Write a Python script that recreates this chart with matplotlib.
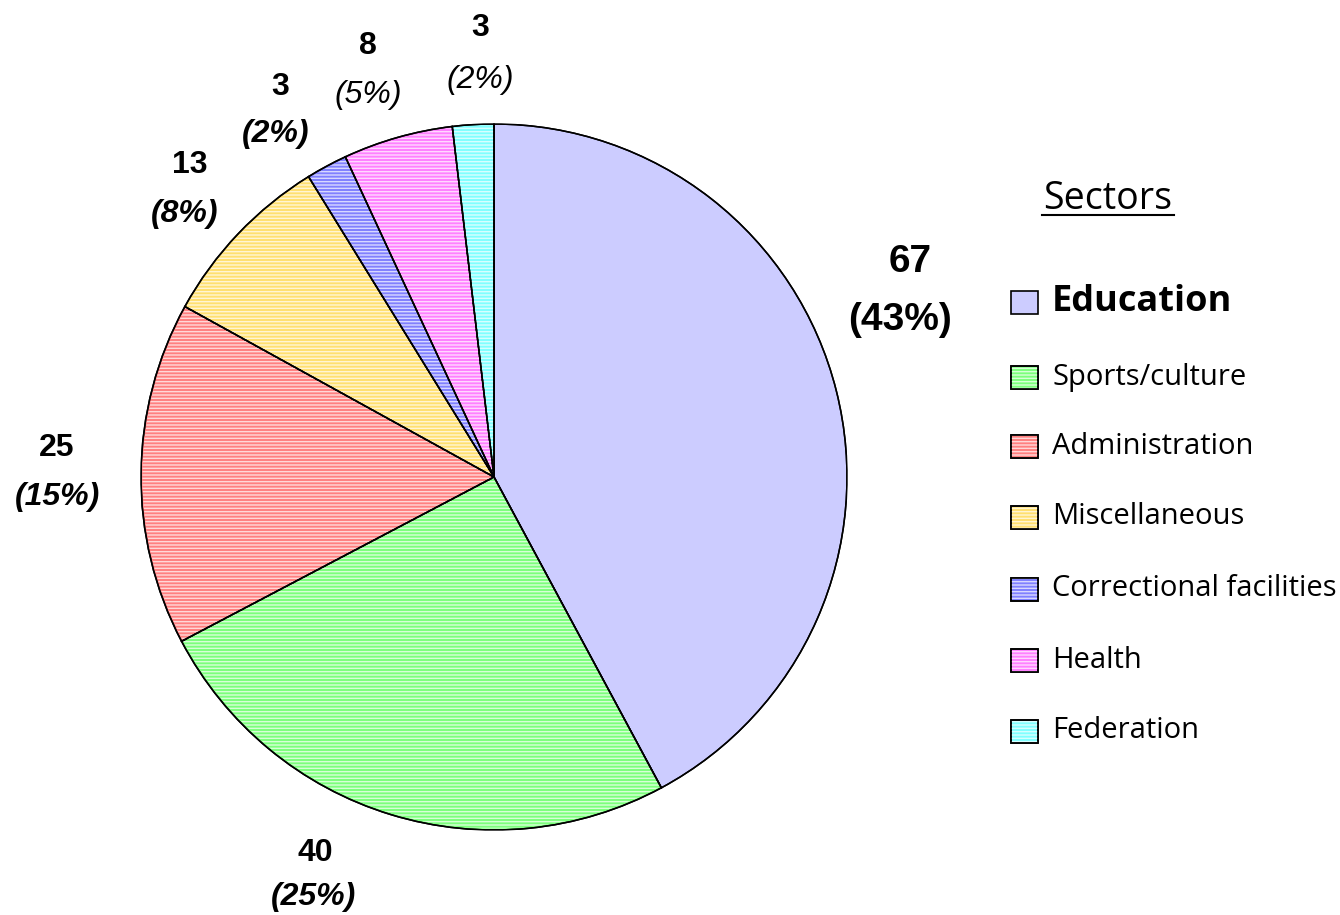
import matplotlib
matplotlib.use("Agg")
import matplotlib.pyplot as plt
from matplotlib.patches import Rectangle, Wedge
from matplotlib.lines import Line2D

sectors = ["Education", "Sports/culture", "Administration", "Miscellaneous",
           "Correctional facilities", "Health", "Federation"]
counts = [67, 40, 25, 13, 3, 8, 3]
pct_labels = ["(43%)", "(25%)", "(15%)", "(8%)", "(2%)", "(5%)", "(2%)"]
colors = ["#CCCCFF", "#7CFF7C", "#FF8080", "#FFE070", "#8080FF", "#FF80FF", "#80FFFF"]
hatched = [False, True, True, True, True, True, True]

plt.rcParams["hatch.linewidth"] = 1.0
W, H = 1340, 915
fig = plt.figure(figsize=(W / 100, H / 100), dpi=100)
cx, cy, r = 494, 477, 353
ax = fig.add_axes([(cx - r) / W, (H - cy - r) / H, 2 * r / W, 2 * r / H])

wedges, _ = ax.pie(counts, colors=colors, startangle=90, counterclock=False,
                   radius=1.0, wedgeprops=dict(edgecolor="black", linewidth=1.1))
ax.set_xlim(-1, 1)
ax.set_ylim(-1, 1)
ax.set_aspect("equal")
ax.axis("off")

HATCH = "-----"
# hatch overlay (white horizontal lines)
for w, h in zip(wedges, hatched):
    if h:
        ax.add_patch(Wedge((0, 0), 0.996, w.theta1, w.theta2, facecolor="none",
                           edgecolor="white", linewidth=0, hatch=HATCH, alpha=0.7))
# redraw edges on top
for w in wedges:
    ax.add_patch(Wedge((0, 0), 1.0, w.theta1, w.theta2, facecolor="none",
                       edgecolor="black", linewidth=1.1))


def fx(px):
    return (px - cx) / r


def fy(py):
    return (cy - py) / r


lab_font = "Liberation Sans"
num_pos = [(910, 262), (315, 853), (57, 448), (190, 165), (280, 87), (368, 46), (480, 28)]
pct_pos = [(900, 320), (313, 897), (57, 497), (185, 214), (276, 134), (368, 95), (480, 80)]
num_size = [28, 23, 23, 23, 23, 23, 23]
pct_weight = ["bold", "bold", "bold", "bold", "bold", "normal", "normal"]
pct_style = ["normal", "italic", "italic", "italic", "italic", "italic", "italic"]
for i in range(len(counts)):
    ax.text(fx(num_pos[i][0]), fy(num_pos[i][1]), str(counts[i]), ha="center", va="center",
            fontsize=num_size[i], fontweight="bold", family=lab_font, clip_on=False)
    ax.text(fx(pct_pos[i][0]), fy(pct_pos[i][1]), pct_labels[i], ha="center", va="center",
            fontsize=num_size[i], fontweight=pct_weight[i], fontstyle=pct_style[i],
            family=lab_font, clip_on=False)

# legend
leg_font = "Open Sans"
fig.text(1108 / W, 1 - 199 / H, "Sectors", ha="center", va="center",
         fontsize=27, family=leg_font)
fig.add_artist(Line2D([1042 / W, 1174 / W], [1 - 215 / H, 1 - 215 / H],
                      color="black", linewidth=1.5))
leg_y = [302, 377, 446, 517, 589, 660, 731]
bw, bh = 27, 23
for i, name in enumerate(sectors):
    y = leg_y[i]
    x0 = (1025 - bw / 2) / W
    y0 = 1 - (y + bh / 2) / H
    fig.add_artist(Rectangle((x0, y0), bw / W, bh / H, transform=fig.transFigure,
                             facecolor=colors[i], edgecolor="black", linewidth=1.2))
    if hatched[i]:
        fig.add_artist(Rectangle((x0, y0), bw / W, bh / H, transform=fig.transFigure,
                                 facecolor="none", edgecolor="white", linewidth=0,
                                 hatch=HATCH, alpha=0.7))
        fig.add_artist(Rectangle((x0, y0), bw / W, bh / H, transform=fig.transFigure,
                                 facecolor="none", edgecolor="black", linewidth=1.2))
    fig.text(1052 / W, 1 - y / H, name, ha="left", va="center",
             fontsize=26 if i == 0 else 21, fontweight="bold" if i == 0 else "normal",
             family=leg_font)

fig.savefig("out.png", dpi=100, facecolor="white")
